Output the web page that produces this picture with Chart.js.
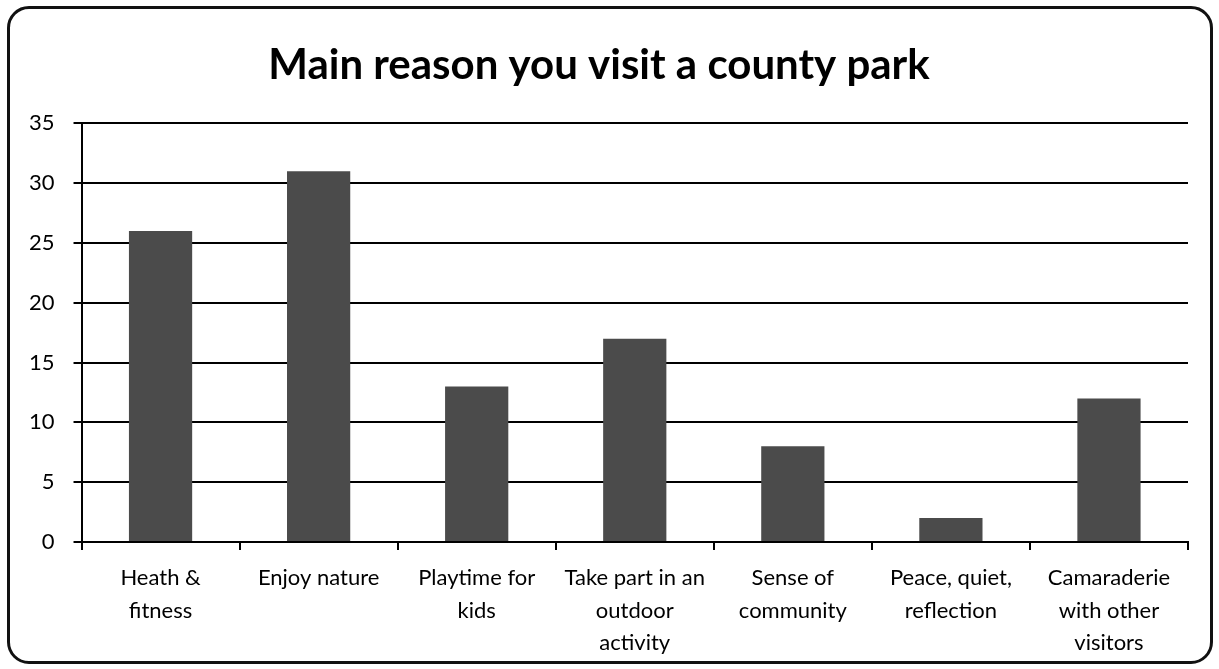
<!DOCTYPE html>
<html>
<head>
<meta charset="utf-8">
<script src="https://cdn.jsdelivr.net/npm/chart.js@4/dist/chart.umd.min.js"></script>
<style>
    body { margin: 0; background: #fff; overflow: hidden; }
    .frame {
        position: absolute;
        left: 7px;
        top: 6px;
        width: 1206px;
        height: 658px;
        border: 3px solid #111;
        border-radius: 22px;
        box-sizing: border-box;
    }
    canvas { position: absolute; left: 10px; top: 9px; }
</style>
</head>
<body>
<canvas id="myChart" width="1200" height="664"></canvas>
<div class="frame"></div>
<script>
// Chart data
const TITLE = 'Main reason you visit a county park';
let categories = [
    ['Heath &', 'fitness'],
    ['Enjoy nature'],
    ['Playtime for', 'kids'],
    ['Take part in an', 'outdoor', 'activity'],
    ['Sense of', 'community'],
    ['Peace, quiet,', 'reflection'],
    ['Camaraderie', 'with other', 'visitors']
];
let values = [26, 31, 13, 17, 8, 2, 12];
let yTicks = [0, 5, 10, 15, 20, 25, 30, 35];

const FONT = 'Lato, "Open Sans", sans-serif';

drawChart();

function drawChart() {
    let ctx = document.getElementById('myChart').getContext('2d');
    new Chart(ctx, {
        type: 'bar',
        data: {
            labels: categories,
            datasets: [{
                label: TITLE,
                backgroundColor: '#4b4b4b',
                borderWidth: 0,
                barPercentage: 0.4,
                categoryPercentage: 1.0,
                data: values
            }]
        },
        options: {
            responsive: false,
            animation: false,
            layout: {
                padding: { top: 10, right: 22, bottom: 2, left: 0 }
            },
            plugins: {
                legend: { display: false },
                tooltip: { enabled: false },
                title: {
                    display: true,
                    text: TITLE,
                    color: '#000',
                    font: { family: FONT, size: 42, weight: 'bold' },
                    padding: { top: 21, bottom: 33 }
                }
            },
            scales: {
                x: {
                    grid: {
                        drawOnChartArea: false,
                        drawTicks: true,
                        tickLength: 8,
                        color: '#000',
                        lineWidth: 2
                    },
                    border: { color: '#000', width: 2 },
                    ticks: {
                        color: '#000',
                        padding: 12,
                        maxRotation: 0,
                        autoSkip: false,
                        font: { family: FONT, size: 22, lineHeight: 1.47 }
                    }
                },
                y: {
                    min: yTicks[0],
                    max: yTicks[yTicks.length - 1],
                    afterBuildTicks: (axis) => {
                        axis.ticks = yTicks.map((v) => ({ value: v }));
                    },
                    grid: {
                        color: '#000',
                        lineWidth: 2,
                        tickLength: 8
                    },
                    border: { color: '#000', width: 2 },
                    ticks: {
                        color: '#000',
                        padding: 19,
                        font: { family: FONT, size: 22 }
                    }
                }
            }
        }
    });
}
</script>
</body>
</html>
